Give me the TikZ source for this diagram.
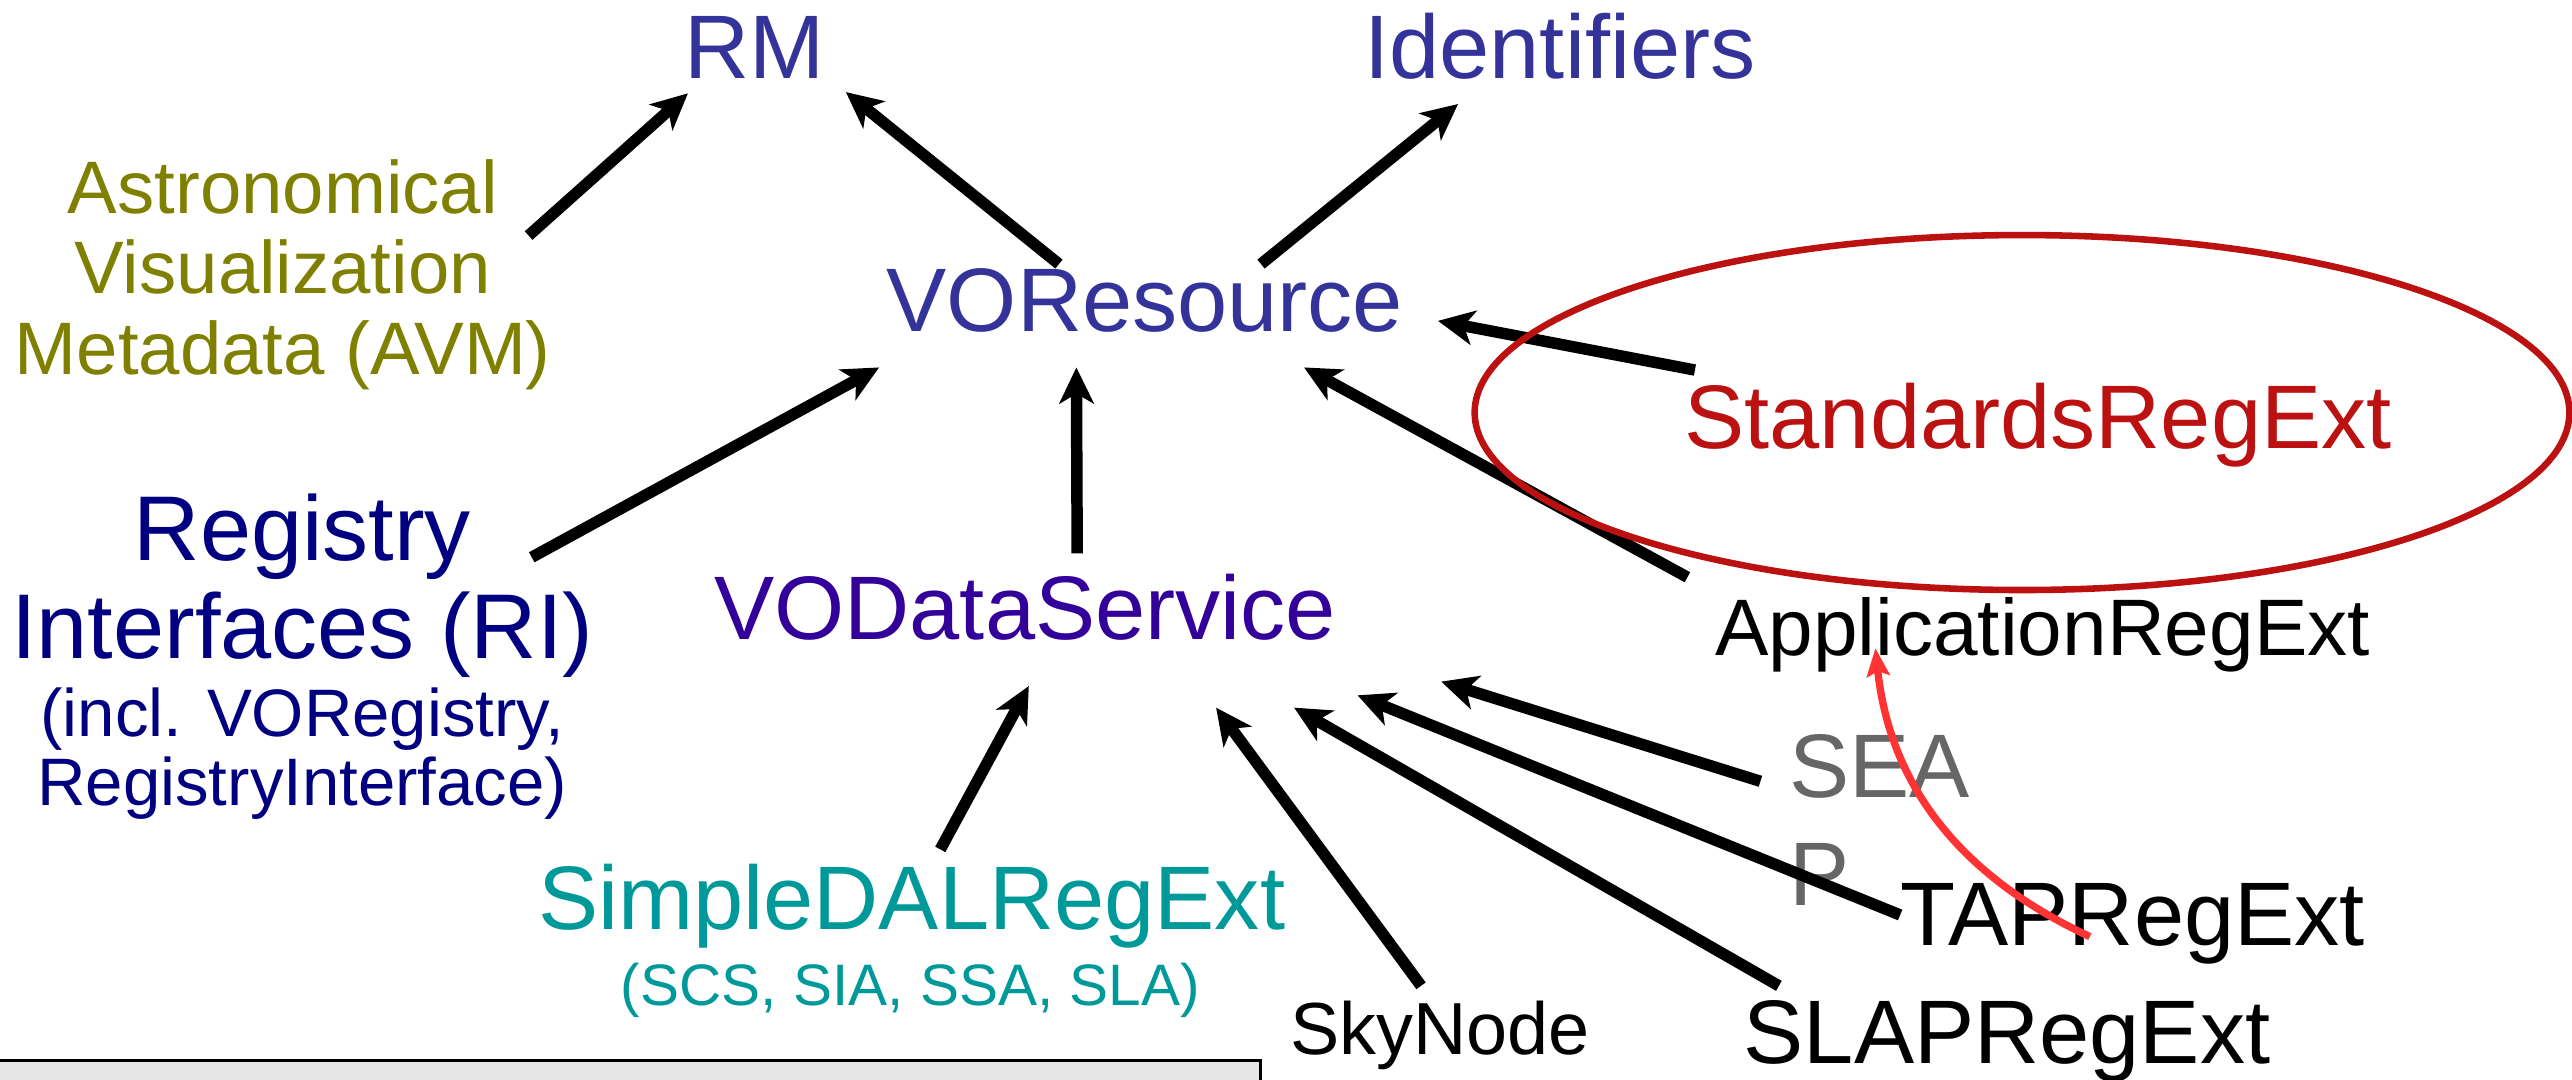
\documentclass[tikz,border=0pt]{standalone}
\usepackage{fontspec}
\setmainfont{Liberation Sans}
\usetikzlibrary{arrows.meta}

\definecolor{rmblue}{HTML}{333399}
\definecolor{vodsblue}{HTML}{330099}
\definecolor{rinavy}{HTML}{000080}
\definecolor{avmolive}{HTML}{808000}
\definecolor{dalteal}{HTML}{009999}
\definecolor{seapgray}{HTML}{666666}
\definecolor{hlred}{HTML}{BB1111}
\definecolor{notered}{HTML}{FF3333}
\definecolor{boxgray}{HTML}{E6E6E6}

\begin{document}
\begin{tikzpicture}[
    lbl/.style={inner sep=0pt, outer sep=0pt, anchor=base},
    big/.style={font=\fontsize{31.3}{36}\selectfont},
    dep/.style={line width=0.14cm, -{Stealth[length=0.44cm, width=0.42cm, inset=0.12cm]}},
    hl/.style={draw=hlred, line width=0.08cm},
    note/.style={draw=notered, line width=0.09cm, -{Stealth[length=0.34cm, width=0.28cm, inset=0.06cm]}}
  ]
  \useasboundingbox (0,0) rectangle (31.36,13.168);
  \clip (0,0) rectangle (31.36,13.168);

  \draw[line width=0.032cm, fill=boxgray] (-0.2,-0.5) rectangle (15.366,0.236);

  % standards
  \node[lbl, big, rmblue, text height=0.794cm, text depth=0.182cm, outer xsep=0.258cm] (rm) at (9.20,12.212) {RM};
  \node[lbl, big, rmblue, text height=0.794cm, text depth=0.312cm] (ident) at (19.02,12.212) {Identifiers};
  \node[lbl, avmolive, align=center, outer xsep=-0.27cm, font=\fontsize{25.8}{27.9}\selectfont] (avm) at (3.448,8.606) {Astronomical\\Visualization\\Metadata (AVM)};
  \node[lbl, big, rmblue, text height=0.824cm, text depth=0.436cm, outer xsep=0.424cm] (vores) at (13.96,9.124) {VOResource};
  \node[lbl, big, hlred, text height=0.954cm, text depth=0.222cm] (stds) at (24.85,7.702) {StandardsRegExt};
  \node[lbl, rinavy, align=center, outer xsep=-0.754cm, font=\fontsize{31.9}{33.9}\selectfont] (ri) at (3.686,5.144) {Registry\\Interfaces (RI)};
  \node[lbl, rinavy, align=center, font=\fontsize{23.3}{24.1}\selectfont] (riincl) at (3.686,3.344) {(incl. VORegistry,\\RegistryInterface)};
  \node[lbl, big, vodsblue, text height=1.046cm, text depth=0.834cm, outer xsep=1.282cm] (vods) at (12.50,5.374) {VODataService};
  \node[lbl, text height=0.96cm, text depth=0.204cm, outer xsep=0.338cm, font=\fontsize{27.8}{33}\selectfont] (app) at (24.904,5.17) {ApplicationRegExt};
  \node[lbl, seapgray, anchor=base west, align=left, outer xsep=0.356cm, font=\fontsize{31.3}{37.7}\selectfont] (seap) at (21.464,2.122) {SEA\\P};
  \node[lbl, big, anchor=base west, text height=0.788cm, text depth=0.032cm] (tap) at (23.168,1.634) {TAPRegExt};
  \node[lbl, big, anchor=base west, text height=0.95cm, text depth=0.232cm] (slap) at (21.26,0.198) {SLAPRegExt};
  \node[lbl, big, dalteal, text height=0.976cm, text depth=0.232cm] (sdal) at (11.116,1.836) {SimpleDALRegExt};
  \node[lbl, dalteal, font=\fontsize{20.3}{24}\selectfont] (sdalnote) at (11.10,0.908) {(SCS, SIA, SSA, SLA)};
  \node[lbl, text height=0.84cm, text depth=0.19cm, font=\fontsize{25.6}{30}\selectfont] (sky) at (17.556,0.308) {SkyNode};

  % dependencies
  \draw[dep] (avm.9.1) -- (rm.211.6);
  \draw[dep] (vores.149.6) -- (rm.-23.2);
  \draw[dep] (vores.24.3) -- (ident.204.9);
  \draw[dep] (stds.172.35) -- (vores.-1.15);
  \draw[dep] (ri.7.9) -- (vores.191.55);
  \draw[dep] (vods.56.5) -- (vores.217.13);
  \draw[dep] (app.north west) -- (vores.-18.15);
  \draw[dep, shorten >=-0.3cm] (sdal.60.77) -- (vods.264.05);
  \draw[dep] (sky.114.8) -- (vods.-22.32);
  \draw[dep] (slap.168.96) -- (vods.-16.72);
  \draw[dep, shorten >=-0.4cm] (tap.west) -- (vods.-12.03);
  \draw[dep] (seap.162.5) -- (vods.-7.48);

  % highlight
  \draw[hl] (24.654,8.138) ellipse [x radius=6.674, y radius=2.164];
  \coordinate (tapmark) at ([xshift=-0.52cm, yshift=0.114cm]tap.base);
  \coordinate (apptip) at ([xshift=-2.038cm, yshift=0.094cm]app.base);
  \draw[note] (tapmark) to[out=155, in=-84] (apptip);
\end{tikzpicture}
\end{document}
